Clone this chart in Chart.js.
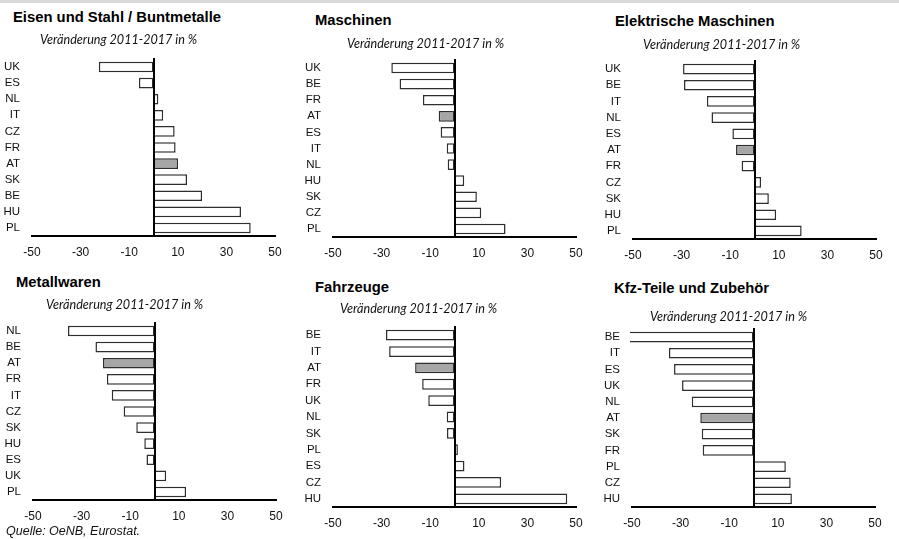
<!DOCTYPE html>
<html>
<head>
<meta charset="utf-8">
<script src="https://cdn.jsdelivr.net/npm/chart.js@4.4.1/dist/chart.umd.min.js"></script>
<style>
  html, body { margin: 0; padding: 0; background: #fff; }
  body { width: 899px; height: 539px; position: relative; overflow: hidden; }
  .band { position: absolute; left: 0; top: 0; width: 899px; height: 3px; background: #d9d9d9; }
  .title { position: absolute; font: bold 14.8px "Liberation Sans", Arial, sans-serif; line-height: 1; white-space: nowrap; color: #000; }
  .sub { position: absolute; font: italic 12.6px Lato, "Open Sans", sans-serif; line-height: 1; white-space: nowrap; color: #111; }
  .src { position: absolute; font: italic 12.5px "Liberation Sans", Arial, sans-serif; line-height: 1; white-space: nowrap; color: #111; }
  canvas { position: absolute; }
</style>
</head>
<body>
<div class="band"></div>
<script>
// Export change by country and product group, 2011-2017, in %
const eisenLabels = ['UK', 'ES', 'NL', 'IT', 'CZ', 'FR', 'AT', 'SK', 'BE', 'HU', 'PL'];
const eisenValues = [-22.5, -6, 2, 4, 8.7, 9.1, 10.1, 13.8, 20, 36, 40];

const maschinenLabels = ['UK', 'BE', 'FR', 'AT', 'ES', 'IT', 'NL', 'HU', 'SK', 'CZ', 'PL'];
const maschinenValues = [-26, -22.6, -13, -6.5, -5.7, -3.2, -2.8, 4, 9.2, 11, 21];

const elektroLabels = ['UK', 'BE', 'IT', 'NL', 'ES', 'AT', 'FR', 'CZ', 'SK', 'HU', 'PL'];
const elektroValues = [-29.4, -29, -19.6, -17.7, -9.1, -7.6, -5.3, 2.7, 5.9, 8.9, 19.4];

const metallLabels = ['NL', 'BE', 'AT', 'FR', 'IT', 'CZ', 'SK', 'HU', 'ES', 'UK', 'PL'];
const metallValues = [-35.6, -24.3, -21.2, -19.6, -17.6, -12.7, -7.5, -4.2, -3.3, 4.8, 13];

const fahrzeugeLabels = ['BE', 'IT', 'AT', 'FR', 'UK', 'NL', 'SK', 'PL', 'ES', 'CZ', 'HU'];
const fahrzeugeValues = [-28.2, -26.9, -16.2, -13.3, -10.8, -3.2, -3.1, 1.4, 4.1, 19.2, 46.4];

const kfzLabels = ['BE', 'IT', 'ES', 'UK', 'NL', 'AT', 'SK', 'FR', 'PL', 'CZ', 'HU'];
const kfzValues = [-55, -34.8, -32.7, -29.4, -25.4, -21.9, -21.3, -20.9, 13.3, 15.3, 15.8];

const xTicks = [-50, -30, -10, 10, 30, 50];

const panelTitles = ['Eisen und Stahl / Buntmetalle', 'Maschinen', 'Elektrische Maschinen',
                     'Metallwaren', 'Fahrzeuge', 'Kfz-Teile und Zubehör'];
const subtitleText = 'Veränderung 2011-2017 in %';
const sourceText = 'Quelle: OeNB, Eurostat.';

const FONT = '"Liberation Sans", Arial, sans-serif';

// vertical line at 0 drawn on top of the bars
const zeroLine = {
  id: 'zeroLine',
  afterDatasetsDraw(chart) {
    const { ctx, chartArea, scales: { x } } = chart;
    const px = Math.round(x.getPixelForValue(0));
    ctx.save();
    ctx.strokeStyle = '#000';
    ctx.lineWidth = 2;
    ctx.beginPath();
    ctx.moveTo(px, chartArea.top - 1);
    ctx.lineTo(px, chartArea.bottom);
    ctx.stroke();
    ctx.restore();
  }
};

function addText(cls, text, left, baseline, ascent) {
  const d = document.createElement('div');
  d.className = cls;
  d.textContent = text;
  d.style.left = left + 'px';
  d.style.top = (baseline - ascent) + 'px';
  document.body.appendChild(d);
}

// box = [plot left, plot top, plot right, axis line y]
function makePanel(labels, values, box) {
  const [L, T, R, B] = box;
  const padL = 40, padT = 24, padR = 24, axisH = 30;
  const w = R - L + padL + padR;
  const h = B - T + padT + axisH;
  const cv = document.createElement('canvas');
  cv.width = w; cv.height = h;
  cv.style.left = (L - padL) + 'px';
  cv.style.top = (T - padT) + 'px';
  cv.style.width = w + 'px';
  cv.style.height = h + 'px';
  document.body.appendChild(cv);

  new Chart(cv, {
    type: 'bar',
    data: {
      labels: labels,
      datasets: [{
        data: values,
        backgroundColor: labels.map(c => c === 'AT' ? '#a6a6a6' : '#ffffff'),
        borderColor: '#2e2e2e',
        borderWidth: 1.5,
        borderSkipped: false,
        barPercentage: 0.66,
        categoryPercentage: 1,
        clip: 2
      }]
    },
    options: {
      indexAxis: 'y',
      responsive: false,
      animation: false,
      devicePixelRatio: 1,
      layout: { padding: { top: padT, right: padR, left: 0, bottom: 0 } },
      plugins: { legend: { display: false }, tooltip: { enabled: false }, title: { display: false } },
      scales: {
        x: {
          type: 'linear', min: -50, max: 50,
          afterBuildTicks: s => { s.ticks = xTicks.map(v => ({ value: v })); },
          afterFit: s => { s.height = axisH; },
          grid: { display: false, drawTicks: false },
          border: { display: true, color: '#000', width: 2 },
          ticks: { padding: 9, color: '#111', font: { family: FONT, size: 12 }, maxRotation: 0, autoSkip: false }
        },
        y: {
          type: 'category',
          afterFit: s => { s.width = padL; },
          grid: { display: false, drawTicks: false },
          border: { display: false },
          ticks: { padding: 12, color: '#111', font: { family: FONT, size: 11.5 }, autoSkip: false }
        }
      }
    },
    plugins: [zeroLine]
  });
}

makePanel(eisenLabels, eisenValues, [32, 59, 275, 236]);
makePanel(maschinenLabels, maschinenValues, [333, 60, 576, 237]);
makePanel(elektroLabels, elektroValues, [633, 61, 876, 239]);
makePanel(metallLabels, metallValues, [33, 323, 276, 500]);
makePanel(fahrzeugeLabels, fahrzeugeValues, [333, 327, 576, 507]);
makePanel(kfzLabels, kfzValues, [632, 329, 875, 507]);

// headings
const tA = 12.5, sA = 11.1, qA = 10.6;
addText('title', panelTitles[0], 13, 22.7, tA);
addText('title', panelTitles[1], 315, 25, tA);
addText('title', panelTitles[2], 615, 26, tA);
addText('title', panelTitles[3], 16, 287.7, tA);
addText('title', panelTitles[4], 315, 292.7, tA);
addText('title', panelTitles[5], 614, 293.3, tA);

addText('sub', subtitleText, 40, 45, sA);
addText('sub', subtitleText, 347, 49.3, sA);
addText('sub', subtitleText, 643, 50, sA);
addText('sub', subtitleText, 46, 310, sA);
addText('sub', subtitleText, 340, 314.3, sA);
addText('sub', subtitleText, 650, 322, sA);

addText('src', sourceText, 6, 536, qA);
</script>
</body>
</html>
